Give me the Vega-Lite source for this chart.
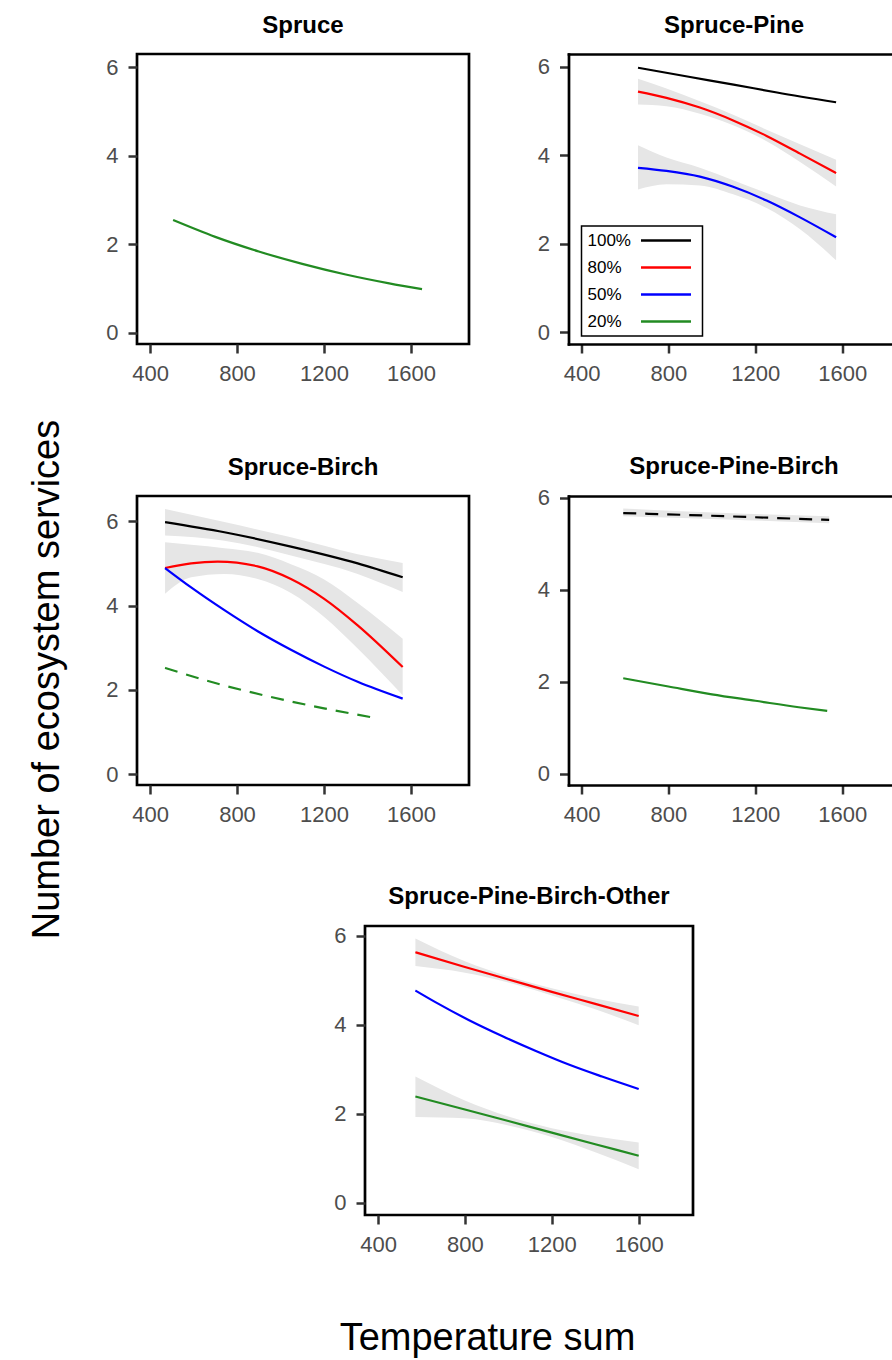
{
  "$schema": "https://vega.github.io/schema/vega-lite/v6.json",
  "background": "white",
  "padding": {"left": 28, "top": 12, "right": 0, "bottom": 0},
  "title": {"text": "Number of ecosystem services", "orient": "left", "anchor": "middle", "fontSize": 38, "fontWeight": "normal", "color": "black", "offset": 7.5, "dx": 6, "baseline": "alphabetic", "font": "Liberation Sans"},
  "config": {
    "font": "Liberation Sans",
    "axis": {"grid": false, "domain": false, "tickColor": "#333333", "tickWidth": 2.5, "tickSize": 9, "labelFontSize": 22, "labelColor": "#4D4D4D", "labelPadding": 10, "labelFont": "Liberation Sans", "labelFlush": false},
    "title": {"fontSize": 24, "fontWeight": "bold", "color": "black", "offset": 16, "baseline": "alphabetic", "font": "Liberation Sans"},
    "legend": {"strokeWidth": 1.5}
  },
  "datasets": {
    "L": [
      {"p":"S","g":"20%","d":0,"t":506,"v":2.55},{"p":"S","g":"20%","d":0,"t":700,"v":2.17},{"p":"S","g":"20%","d":0,"t":900,"v":1.84},{"p":"S","g":"20%","d":0,"t":1100,"v":1.56},{"p":"S","g":"20%","d":0,"t":1300,"v":1.32},{"p":"S","g":"20%","d":0,"t":1500,"v":1.12},{"p":"S","g":"20%","d":0,"t":1651,"v":0.99},
      {"p":"SP","g":"100%","d":0,"t":660,"v":5.98},{"p":"SP","g":"100%","d":0,"t":900,"v":5.77},{"p":"SP","g":"100%","d":0,"t":1100,"v":5.6},{"p":"SP","g":"100%","d":0,"t":1300,"v":5.42},{"p":"SP","g":"100%","d":0,"t":1572,"v":5.2},
      {"p":"SP","g":"80%","d":0,"t":660,"v":5.44},{"p":"SP","g":"80%","d":0,"t":791,"v":5.3},{"p":"SP","g":"80%","d":0,"t":945,"v":5.08},{"p":"SP","g":"80%","d":0,"t":1098,"v":4.79},{"p":"SP","g":"80%","d":0,"t":1252,"v":4.44},{"p":"SP","g":"80%","d":0,"t":1406,"v":4.04},{"p":"SP","g":"80%","d":0,"t":1572,"v":3.6},
      {"p":"SP","g":"50%","d":0,"t":660,"v":3.72},{"p":"SP","g":"50%","d":0,"t":791,"v":3.65},{"p":"SP","g":"50%","d":0,"t":945,"v":3.52},{"p":"SP","g":"50%","d":0,"t":1098,"v":3.29},{"p":"SP","g":"50%","d":0,"t":1252,"v":2.98},{"p":"SP","g":"50%","d":0,"t":1406,"v":2.6},{"p":"SP","g":"50%","d":0,"t":1572,"v":2.15},
      {"p":"SB","g":"100%","d":0,"t":469,"v":5.98},{"p":"SB","g":"100%","d":0,"t":742,"v":5.74},{"p":"SB","g":"100%","d":0,"t":1048,"v":5.4},{"p":"SB","g":"100%","d":0,"t":1355,"v":5.0},{"p":"SB","g":"100%","d":0,"t":1562,"v":4.67},
      {"p":"SB","g":"80%","d":0,"t":469,"v":4.89},{"p":"SB","g":"80%","d":0,"t":589,"v":5.0},{"p":"SB","g":"80%","d":0,"t":711,"v":5.04},{"p":"SB","g":"80%","d":0,"t":895,"v":4.93},{"p":"SB","g":"80%","d":0,"t":1048,"v":4.63},{"p":"SB","g":"80%","d":0,"t":1201,"v":4.16},{"p":"SB","g":"80%","d":0,"t":1355,"v":3.53},{"p":"SB","g":"80%","d":0,"t":1562,"v":2.54},
      {"p":"SB","g":"50%","d":0,"t":469,"v":4.89},{"p":"SB","g":"50%","d":0,"t":589,"v":4.43},{"p":"SB","g":"50%","d":0,"t":742,"v":3.89},{"p":"SB","g":"50%","d":0,"t":895,"v":3.39},{"p":"SB","g":"50%","d":0,"t":1048,"v":2.95},{"p":"SB","g":"50%","d":0,"t":1201,"v":2.55},{"p":"SB","g":"50%","d":0,"t":1355,"v":2.19},{"p":"SB","g":"50%","d":0,"t":1562,"v":1.79},
      {"p":"SB","g":"20%","d":1,"t":469,"v":2.52},{"p":"SB","g":"20%","d":1,"t":700,"v":2.16},{"p":"SB","g":"20%","d":1,"t":956,"v":1.83},{"p":"SB","g":"20%","d":1,"t":1200,"v":1.56},{"p":"SB","g":"20%","d":1,"t":1439,"v":1.33},
      {"p":"SPB","g":"100%","d":1,"t":592,"v":5.67},{"p":"SPB","g":"100%","d":1,"t":1066,"v":5.6},{"p":"SPB","g":"100%","d":1,"t":1540,"v":5.52},
      {"p":"SPB","g":"20%","d":0,"t":592,"v":2.08},{"p":"SPB","g":"20%","d":0,"t":800,"v":1.9},{"p":"SPB","g":"20%","d":0,"t":1000,"v":1.73},{"p":"SPB","g":"20%","d":0,"t":1200,"v":1.59},{"p":"SPB","g":"20%","d":0,"t":1400,"v":1.45},{"p":"SPB","g":"20%","d":0,"t":1531,"v":1.37},
      {"p":"SPBO","g":"80%","d":0,"t":572,"v":5.63},{"p":"SPBO","g":"80%","d":0,"t":800,"v":5.3},{"p":"SPBO","g":"80%","d":0,"t":1000,"v":5.02},{"p":"SPBO","g":"80%","d":0,"t":1200,"v":4.74},{"p":"SPBO","g":"80%","d":0,"t":1400,"v":4.47},{"p":"SPBO","g":"80%","d":0,"t":1600,"v":4.2},
      {"p":"SPBO","g":"50%","d":0,"t":572,"v":4.77},{"p":"SPBO","g":"50%","d":0,"t":664,"v":4.51},{"p":"SPBO","g":"50%","d":0,"t":817,"v":4.11},{"p":"SPBO","g":"50%","d":0,"t":971,"v":3.75},{"p":"SPBO","g":"50%","d":0,"t":1124,"v":3.42},{"p":"SPBO","g":"50%","d":0,"t":1278,"v":3.11},{"p":"SPBO","g":"50%","d":0,"t":1431,"v":2.84},{"p":"SPBO","g":"50%","d":0,"t":1600,"v":2.56},
      {"p":"SPBO","g":"20%","d":0,"t":572,"v":2.39},{"p":"SPBO","g":"20%","d":0,"t":800,"v":2.1},{"p":"SPBO","g":"20%","d":0,"t":1000,"v":1.84},{"p":"SPBO","g":"20%","d":0,"t":1200,"v":1.58},{"p":"SPBO","g":"20%","d":0,"t":1400,"v":1.32},{"p":"SPBO","g":"20%","d":0,"t":1600,"v":1.06}
    ],
    "B": [
      {"p":"SP","g":"80%","t":660,"lo":5.15,"hi":5.73},{"p":"SP","g":"80%","t":791,"lo":5.11,"hi":5.51},{"p":"SP","g":"80%","t":945,"lo":4.94,"hi":5.22},{"p":"SP","g":"80%","t":1098,"lo":4.68,"hi":4.92},{"p":"SP","g":"80%","t":1252,"lo":4.32,"hi":4.58},{"p":"SP","g":"80%","t":1406,"lo":3.85,"hi":4.25},{"p":"SP","g":"80%","t":1572,"lo":3.3,"hi":3.9},
      {"p":"SP","g":"50%","t":660,"lo":3.23,"hi":4.23},{"p":"SP","g":"50%","t":791,"lo":3.35,"hi":3.95},{"p":"SP","g":"50%","t":945,"lo":3.32,"hi":3.72},{"p":"SP","g":"50%","t":1098,"lo":3.12,"hi":3.44},{"p":"SP","g":"50%","t":1252,"lo":2.81,"hi":3.15},{"p":"SP","g":"50%","t":1406,"lo":2.33,"hi":2.87},{"p":"SP","g":"50%","t":1572,"lo":1.63,"hi":2.67},
      {"p":"SB","g":"100%","t":469,"lo":5.66,"hi":6.29},{"p":"SB","g":"100%","t":742,"lo":5.54,"hi":5.98},{"p":"SB","g":"100%","t":1048,"lo":5.19,"hi":5.62},{"p":"SB","g":"100%","t":1355,"lo":4.75,"hi":5.22},{"p":"SB","g":"100%","t":1562,"lo":4.32,"hi":5.01},
      {"p":"SB","g":"80%","t":469,"lo":4.28,"hi":5.5},{"p":"SB","g":"80%","t":589,"lo":4.67,"hi":5.44},{"p":"SB","g":"80%","t":742,"lo":4.75,"hi":5.36},{"p":"SB","g":"80%","t":895,"lo":4.63,"hi":5.25},{"p":"SB","g":"80%","t":1048,"lo":4.3,"hi":4.98},{"p":"SB","g":"80%","t":1201,"lo":3.73,"hi":4.62},{"p":"SB","g":"80%","t":1355,"lo":2.98,"hi":4.06},{"p":"SB","g":"80%","t":1562,"lo":1.87,"hi":3.21},
      {"p":"SPB","g":"100%","t":592,"lo":5.6,"hi":5.77},{"p":"SPB","g":"100%","t":1066,"lo":5.53,"hi":5.67},{"p":"SPB","g":"100%","t":1540,"lo":5.45,"hi":5.6},
      {"p":"SPBO","g":"80%","t":572,"lo":5.32,"hi":5.94},{"p":"SPBO","g":"80%","t":800,"lo":5.17,"hi":5.43},{"p":"SPBO","g":"80%","t":1000,"lo":4.95,"hi":5.09},{"p":"SPBO","g":"80%","t":1200,"lo":4.66,"hi":4.82},{"p":"SPBO","g":"80%","t":1400,"lo":4.35,"hi":4.59},{"p":"SPBO","g":"80%","t":1600,"lo":3.99,"hi":4.41},
      {"p":"SPBO","g":"20%","t":572,"lo":1.93,"hi":2.84},{"p":"SPBO","g":"20%","t":800,"lo":1.9,"hi":2.3},{"p":"SPBO","g":"20%","t":1000,"lo":1.74,"hi":1.94},{"p":"SPBO","g":"20%","t":1200,"lo":1.48,"hi":1.68},{"p":"SPBO","g":"20%","t":1400,"lo":1.14,"hi":1.5},{"p":"SPBO","g":"20%","t":1600,"lo":0.76,"hi":1.36}
    ]
  },
  "resolve": {"scale": {"x": "independent", "y": "independent", "color": "independent"}, "axis": {"x": "independent", "y": "independent"}, "legend": {"color": "independent"}},
  "spacing": 56,
  "vconcat": [
    {
      "spacing": 68,
      "resolve": {"scale": {"x": "independent", "y": "independent", "color": "independent"}, "axis": {"x": "independent", "y": "independent"}, "legend": {"color": "independent"}},
      "vconcat": [
        {
          "spacing": 65.5,
          "resolve": {"scale": {"x": "independent", "y": "independent", "color": "independent"}, "axis": {"x": "independent", "y": "independent"}, "legend": {"color": "independent"}},
          "hconcat": [
            {
              "title": "Spruce",
              "width": 332, "height": 290,
              "view": {"stroke": "black", "strokeWidth": 2.7},
              "data": {"name": "L"},
              "transform": [{"filter": "datum.p == 'S'"}],
              "mark": {"type": "line", "strokeWidth": 2.2, "interpolate": "monotone"},
              "encoding": {
                "x": {"field": "t", "type": "quantitative", "scale": {"domain": [340, 1867], "nice": false, "zero": false}, "axis": {"values": [400, 800, 1200, 1600], "format": "d", "title": null}},
                "y": {"field": "v", "type": "quantitative", "scale": {"domain": [-0.25, 6.3], "nice": false, "zero": false}, "axis": {"values": [0, 2, 4, 6], "title": null}},
                "color": {"field": "g", "type": "nominal", "scale": {"domain": ["100%", "80%", "50%", "20%"], "range": ["black", "red", "blue", "forestgreen"]}, "legend": null}
              }
            },
            {
              "title": {"text": "Spruce-Pine", "dx": 4},
              "width": 323, "height": 290,
              "view": {"stroke": null},
              "layer": [
                {
                  "data": {"name": "B"},
                  "transform": [{"filter": "datum.p == 'SP'"}],
                  "mark": {"type": "area", "color": "#E6E6E6", "interpolate": "monotone"},
                  "encoding": {
                    "x": {"field": "t", "type": "quantitative", "scale": {"domain": [340, 1827], "nice": false, "zero": false}, "axis": {"orient": "top", "labels": false, "ticks": false, "domain": true, "domainColor": "black", "domainWidth": 2.7, "domainCap": "square", "title": null}},
                    "y": {"field": "lo", "type": "quantitative", "scale": {"domain": [-0.26, 6.29], "nice": false, "zero": false}, "axis": {"values": [0, 2, 4, 6], "title": null, "domain": true, "domainColor": "black", "domainWidth": 2.7, "domainCap": "square"}},
                    "y2": {"field": "hi"},
                    "detail": {"field": "g", "type": "nominal"}
                  }
                },
                {
                  "data": {"name": "L"},
                  "transform": [{"filter": "datum.p == 'SP'"}],
                  "mark": {"type": "line", "strokeWidth": 2.2, "interpolate": "monotone"},
                  "encoding": {
                    "x": {"field": "t", "type": "quantitative", "scale": {"domain": [340, 1827], "nice": false, "zero": false}, "axis": {"values": [400, 800, 1200, 1600], "format": "d", "title": null, "domain": true, "domainColor": "black", "domainWidth": 2.7, "domainCap": "square"}},
                    "y": {"field": "v", "type": "quantitative", "scale": {"domain": [-0.26, 6.29], "nice": false, "zero": false}, "axis": {"values": [0, 2, 4, 6], "title": null, "domain": true, "domainColor": "black", "domainWidth": 2.7, "domainCap": "square"}},
                    "color": {"field": "g", "type": "nominal", "scale": {"domain": ["100%", "80%", "50%", "20%"], "range": ["black", "red", "blue", "forestgreen"]},
                      "legend": {"orient": "none", "legendX": 13, "legendY": 172, "title": null, "symbolType": "M-5,0H5", "symbolSize": 100, "symbolStrokeWidth": 2.4, "symbolOffset": 70, "labelOffset": -87, "labelFontSize": 17, "labelColor": "black", "labelFont": "Liberation Sans", "fillColor": "white", "strokeColor": "black", "padding": 6, "rowPadding": 9, "labelLimit": 200}}
                  }
                }
              ],
              "resolve": {"axis": {"x": "independent"}}
            }
          ]
        },
        {
          "spacing": 65.5,
          "resolve": {"scale": {"x": "independent", "y": "independent", "color": "independent"}, "axis": {"x": "independent", "y": "independent"}, "legend": {"color": "independent"}},
          "hconcat": [
            {
              "title": "Spruce-Birch",
              "width": 332, "height": 289,
              "view": {"stroke": "black", "strokeWidth": 2.7},
              "layer": [
                {
                  "data": {"name": "B"},
                  "transform": [{"filter": "datum.p == 'SB'"}],
                  "mark": {"type": "area", "color": "#E6E6E6", "interpolate": "monotone"},
                  "encoding": {
                    "x": {"field": "t", "type": "quantitative", "scale": {"domain": [340, 1867], "nice": false, "zero": false}, "axis": {"values": [400, 800, 1200, 1600], "format": "d", "title": null}},
                    "y": {"field": "lo", "type": "quantitative", "scale": {"domain": [-0.26, 6.6], "nice": false, "zero": false}, "axis": {"values": [0, 2, 4, 6], "title": null}},
                    "y2": {"field": "hi"},
                    "detail": {"field": "g", "type": "nominal"}
                  }
                },
                {
                  "data": {"name": "L"},
                  "transform": [{"filter": "datum.p == 'SB' && datum.d == 0"}],
                  "mark": {"type": "line", "strokeWidth": 2.2, "interpolate": "monotone"},
                  "encoding": {
                    "x": {"field": "t", "type": "quantitative"},
                    "y": {"field": "v", "type": "quantitative"},
                    "color": {"field": "g", "type": "nominal", "scale": {"domain": ["100%", "80%", "50%", "20%"], "range": ["black", "red", "blue", "forestgreen"]}, "legend": null}
                  }
                },
                {
                  "data": {"name": "L"},
                  "transform": [{"filter": "datum.p == 'SB' && datum.d == 1"}],
                  "mark": {"type": "line", "strokeWidth": 2.2, "strokeDash": [13, 9], "interpolate": "monotone"},
                  "encoding": {
                    "x": {"field": "t", "type": "quantitative"},
                    "y": {"field": "v", "type": "quantitative"},
                    "color": {"field": "g", "type": "nominal", "scale": {"domain": ["100%", "80%", "50%", "20%"], "range": ["black", "red", "blue", "forestgreen"]}, "legend": null}
                  }
                }
              ]
            },
            {
              "title": {"text": "Spruce-Pine-Birch", "dx": 4, "offset": 8},
              "width": 323, "height": 289,
              "view": {"stroke": null},
              "layer": [
                {
                  "data": {"name": "B"},
                  "transform": [{"filter": "datum.p == 'SPB'"}],
                  "mark": {"type": "area", "color": "#E6E6E6", "interpolate": "monotone"},
                  "encoding": {
                    "x": {"field": "t", "type": "quantitative", "scale": {"domain": [340, 1827], "nice": false, "zero": false}, "axis": {"orient": "top", "labels": false, "ticks": false, "domain": true, "domainColor": "black", "domainWidth": 2.7, "domainCap": "square", "title": null}},
                    "y": {"field": "lo", "type": "quantitative", "scale": {"domain": [-0.24, 6.04], "nice": false, "zero": false}, "axis": {"values": [0, 2, 4, 6], "title": null, "domain": true, "domainColor": "black", "domainWidth": 2.7, "domainCap": "square"}},
                    "y2": {"field": "hi"},
                    "detail": {"field": "g", "type": "nominal"}
                  }
                },
                {
                  "data": {"name": "L"},
                  "transform": [{"filter": "datum.p == 'SPB' && datum.d == 0"}],
                  "mark": {"type": "line", "strokeWidth": 2.2, "interpolate": "monotone"},
                  "encoding": {
                    "x": {"field": "t", "type": "quantitative", "scale": {"domain": [340, 1827], "nice": false, "zero": false}, "axis": {"values": [400, 800, 1200, 1600], "format": "d", "title": null, "domain": true, "domainColor": "black", "domainWidth": 2.7, "domainCap": "square"}},
                    "y": {"field": "v", "type": "quantitative", "axis": {"values": [0, 2, 4, 6], "title": null, "domain": true, "domainColor": "black", "domainWidth": 2.7, "domainCap": "square"}},
                    "color": {"field": "g", "type": "nominal", "scale": {"domain": ["100%", "80%", "50%", "20%"], "range": ["black", "red", "blue", "forestgreen"]}, "legend": null}
                  }
                },
                {
                  "data": {"name": "L"},
                  "transform": [{"filter": "datum.p == 'SPB' && datum.d == 1"}],
                  "mark": {"type": "line", "strokeWidth": 2.2, "strokeDash": [13, 9], "interpolate": "monotone"},
                  "encoding": {
                    "x": {"field": "t", "type": "quantitative", "axis": null},
                    "y": {"field": "v", "type": "quantitative", "axis": {"values": [0, 2, 4, 6], "title": null, "domain": true, "domainColor": "black", "domainWidth": 2.7, "domainCap": "square"}},
                    "color": {"field": "g", "type": "nominal", "scale": {"domain": ["100%", "80%", "50%", "20%"], "range": ["black", "red", "blue", "forestgreen"]}, "legend": null}
                  }
                }
              ],
              "resolve": {"axis": {"x": "independent"}}
            }
          ]
        }
      ]
    },
    {
      "spacing": 10,
      "resolve": {"scale": {"x": "independent", "y": "independent", "color": "independent"}, "axis": {"x": "independent", "y": "independent"}, "legend": {"color": "independent"}},
      "hconcat": [
        {
          "width": 184.5, "height": 289,
          "view": {"stroke": null},
          "data": {"values": []},
          "mark": "point"
        },
        {
          "title": "Spruce-Pine-Birch-Other",
          "width": 328, "height": 289,
          "view": {"stroke": "black", "strokeWidth": 2.7},
          "layer": [
            {
              "data": {"name": "B"},
              "transform": [{"filter": "datum.p == 'SPBO'"}],
              "mark": {"type": "area", "color": "#E6E6E6", "interpolate": "monotone"},
              "encoding": {
                "x": {"field": "t", "type": "quantitative", "scale": {"domain": [340, 1850], "nice": false, "zero": false}, "axis": {"values": [400, 800, 1200, 1600], "format": "d", "title": "Temperature sum", "titleFontSize": 38, "titleFontWeight": "normal", "titleColor": "black", "titleX": 122, "titlePadding": 64}},
                "y": {"field": "lo", "type": "quantitative", "scale": {"domain": [-0.27, 6.22], "nice": false, "zero": false}, "axis": {"values": [0, 2, 4, 6], "title": null}},
                "y2": {"field": "hi"},
                "detail": {"field": "g", "type": "nominal"}
              }
            },
            {
              "data": {"name": "L"},
              "transform": [{"filter": "datum.p == 'SPBO'"}],
              "mark": {"type": "line", "strokeWidth": 2.2, "interpolate": "monotone"},
              "encoding": {
                "x": {"field": "t", "type": "quantitative"},
                "y": {"field": "v", "type": "quantitative"},
                "color": {"field": "g", "type": "nominal", "scale": {"domain": ["100%", "80%", "50%", "20%"], "range": ["black", "red", "blue", "forestgreen"]}, "legend": null}
              }
            }
          ]
        }
      ]
    }
  ]
}
